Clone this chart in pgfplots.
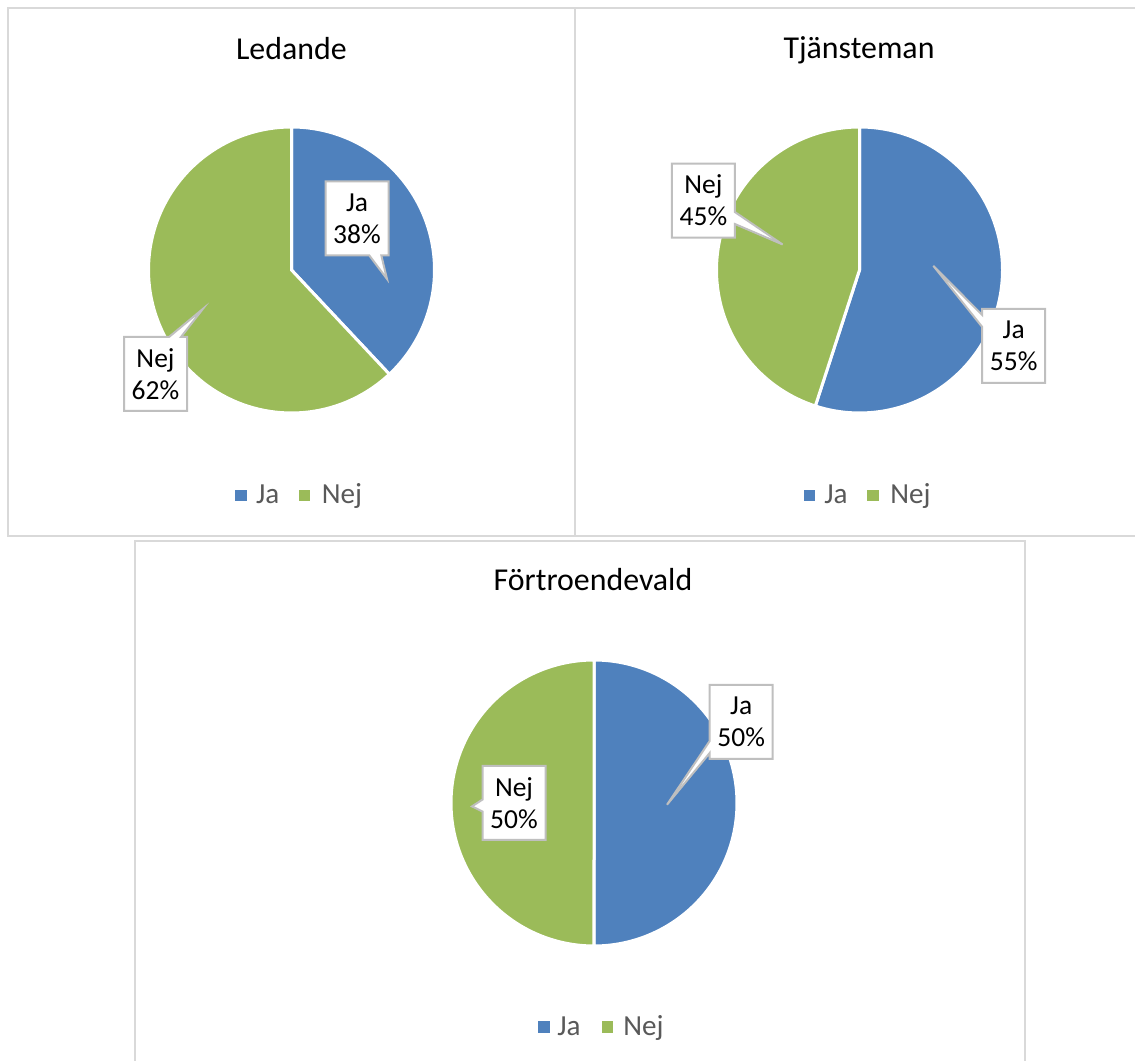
\documentclass[border=0pt]{standalone}
\usepackage{fontspec}
\setmainfont{Carlito}
\usepackage{pgfplots}
\pgfplotsset{compat=1.18}
\usetikzlibrary{shapes.callouts}
\definecolor{jablue}{HTML}{4F81BD}
\definecolor{nejgreen}{HTML}{9BBB59}
\definecolor{panelgray}{HTML}{D9D9D9}
\definecolor{legtext}{HTML}{595959}
\definecolor{callgray}{HTML}{BFBFBF}

% #1 cx, #2 cy, #3 r, #4 start angle, #5 end angle, #6 colour
\newcommand{\Slice}[6]{%
  \addplot[fill=#6, draw=white, line width=1.5bp, domain=#4:#5, samples=100, variable=\t]
    ({#1+#3*cos(\t)},{#2+#3*sin(\t)}) -- (axis cs:#1,#2) -- cycle;
}
\newcommand{\Lbl}[5]{% x y tipx tipy text
  \node[rectangle callout, draw=callgray, line width=1bp, fill=white,
        minimum width=31.5bp, minimum height=37bp, inner sep=1bp, align=center,
        callout pointer width=6bp,
        callout absolute pointer={(axis cs:#3,#4)},
        font=\fontsize{13.8}{16}\selectfont]
    at (axis cs:#1,#2) {#5};
}
\newcommand{\Legend}[5]{% xblue xJa xgreen xNej ycenter
  \fill[jablue] (axis cs:#1-5.75,#5-5.75) rectangle (axis cs:#1+5.75,#5+5.75);
  \fill[nejgreen] (axis cs:#3-5.75,#5-5.75) rectangle (axis cs:#3+5.75,#5+5.75);
  \node[anchor=base west, inner sep=0pt, text=legtext, font=\fontsize{14.6}{17}\selectfont] at (axis cs:#2,#5-8.2) {Ja};
  \node[anchor=base west, inner sep=0pt, text=legtext, font=\fontsize{14.6}{17}\selectfont] at (axis cs:#4,#5-8.2) {Nej};
}

\begin{document}
\begin{tikzpicture}
\begin{axis}[
  width=567.5bp, height=530.5bp, scale only axis,
  xmin=0, xmax=1135, ymin=0, ymax=1061,
  hide axis, clip=false,
]
\coordinate (SW) at (axis cs:0,0);
\coordinate (NE) at (axis cs:1135,1061);

% panel borders
\draw[panelgray, line width=0.75bp] (axis cs:8,1053) rectangle (axis cs:575,525);
\draw[panelgray, line width=0.75bp] (axis cs:575,1053) -- (axis cs:1140,1053);
\draw[panelgray, line width=0.75bp] (axis cs:575,525) -- (axis cs:1140,525);
\draw[panelgray, line width=0.75bp] (axis cs:135,-5) -- (axis cs:135,520) -- (axis cs:1025,520) -- (axis cs:1025,-5);

% Ledande: Ja 38, Nej 62
\Slice{291.5}{791}{143}{90-3.6*38}{90}{jablue}
\Slice{291.5}{791}{143}{90}{90+3.6*62}{nejgreen}
% Tjänsteman: Ja 55, Nej 45
\Slice{859.5}{791}{143}{90-3.6*55}{90}{jablue}
\Slice{859.5}{791}{143}{90}{90+3.6*45}{nejgreen}
% Förtroendevald: Ja 50, Nej 50
\Slice{594}{258}{143}{90-3.6*50}{90}{jablue}
\Slice{594}{258}{143}{90}{90+3.6*50}{nejgreen}

% titles
\node[anchor=base, inner sep=0pt, font=\fontsize{16}{19}\selectfont] at (axis cs:291.4,1001.8) {Ledande};
\node[anchor=base, inner sep=0pt, font=\fontsize{16}{19}\selectfont] at (axis cs:859,1002.5) {Tjänsteman};
\node[anchor=base, inner sep=0pt, font=\fontsize{16}{19}\selectfont] at (axis cs:593,470.3) {Förtroendevald};

% data labels
\Lbl{357}{842.5}{387}{782}{Ja\\38\%}
\Lbl{155.5}{687}{202.8}{752}{Nej\\62\%}
\Lbl{703.4}{860.4}{782.6}{816.5}{Nej\\45\%}
\Lbl{1013.7}{715}{933.3}{795.2}{Ja\\55\%}
\Lbl{741.2}{339}{667}{256.3}{Ja\\50\%}
\Lbl{514}{258}{472}{254.6}{Nej\\50\%}

% legends
\Legend{241}{255.6}{304.6}{321.5}{565.5}
\Legend{809.5}{824}{873}{890}{565.5}
\Legend{544}{557}{607.5}{623}{34}
\end{axis}
\pgfresetboundingbox
\useasboundingbox (SW) rectangle (NE);
\end{tikzpicture}
\end{document}
